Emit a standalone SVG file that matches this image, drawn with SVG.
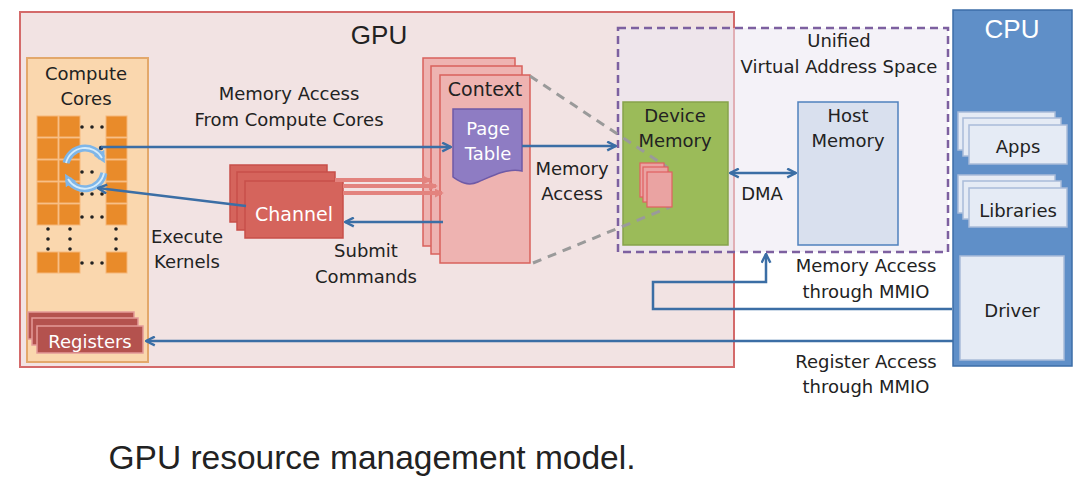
<svg xmlns="http://www.w3.org/2000/svg" width="1080" height="477" viewBox="0 0 1080 477">
<style>
text{font-family:"DejaVu Sans","Noto Sans",sans-serif;font-size:18px;fill:#222;text-anchor:middle}
.w{fill:#fff}
.cell{fill:#e98b2a;stroke:#f5b77a;stroke-width:1}
.dot{fill:#222}
.blue{fill:none;stroke:#3b6ea5;stroke-width:2.5}
.red{fill:none;stroke:#e3837e;stroke-width:4}
.ctx{fill:#eeb3b1;stroke:#d9625c;stroke-width:1.5}
.chn{fill:#d5645c;stroke:#c74f49;stroke-width:1.5}
.reg{fill:#b4524e;stroke:#e39a98;stroke-width:1.5}
.cpub{fill:#e5ebf5;stroke:#a9bcd9;stroke-width:1.5}
.gdash{fill:none;stroke:#9a9a9a;stroke-width:3;stroke-dasharray:9 7}
</style>
<defs>
<marker id="ab" viewBox="0 0 10 10" refX="9" refY="5" markerWidth="11" markerHeight="11" markerUnits="userSpaceOnUse" orient="auto-start-reverse">
<path d="M1,1 L9,5 L1,9" fill="none" stroke="#3b6ea5" stroke-width="2.2"/>
</marker>
<marker id="ar" viewBox="0 0 10 10" refX="8" refY="5" markerWidth="9" markerHeight="9" markerUnits="userSpaceOnUse" orient="auto">
<path d="M0,0 L10,5 L0,10 Z" fill="#e3837e"/>
</marker>
<marker id="ac" viewBox="0 0 10 10" refX="5" refY="5" markerWidth="12" markerHeight="12" markerUnits="userSpaceOnUse" orient="auto">
<path d="M0,0 L10,5 L0,10 Z" fill="#7fb6e8"/>
</marker>
</defs>
<rect width="1080" height="477" fill="#fff"/>

<g id="gpu">
<rect x="20" y="12" width="714" height="355" fill="#f2e3e3" stroke="#d46a6a" stroke-width="2"/>
<text x="379" y="44" style="font-family:'Liberation Sans',Arial,sans-serif;font-size:26px">GPU</text>
</g>

<g id="uvas">
<rect x="618" y="28" width="330" height="224" fill="#ebe7f3" fill-opacity="0.55" stroke="#7d60a0" stroke-width="2.5" stroke-dasharray="8 5"/>
<text x="839" y="47">Unified</text>
<text x="839" y="73">Virtual Address Space</text>
</g>

<g id="compute-cores">
<rect x="27" y="58" width="121" height="304" fill="#fad7ae" stroke="#e3a86b" stroke-width="2"/>
<text x="86" y="80">Compute</text>
<text x="86" y="105">Cores</text>
<g>
<rect class="cell" x="37" y="116" width="21" height="21"/><rect class="cell" x="59" y="116" width="21" height="21"/><rect class="cell" x="106" y="116" width="21" height="21"/>
<rect class="cell" x="37" y="138" width="21" height="21"/><rect class="cell" x="59" y="138" width="21" height="21"/><rect class="cell" x="106" y="138" width="21" height="21"/>
<rect class="cell" x="37" y="160" width="21" height="21"/><rect class="cell" x="59" y="160" width="21" height="21"/><rect class="cell" x="106" y="160" width="21" height="21"/>
<rect class="cell" x="37" y="182" width="21" height="21"/><rect class="cell" x="59" y="182" width="21" height="21"/><rect class="cell" x="106" y="182" width="21" height="21"/>
<rect class="cell" x="37" y="204" width="21" height="21"/><rect class="cell" x="59" y="204" width="21" height="21"/><rect class="cell" x="106" y="204" width="21" height="21"/>
<rect class="cell" x="37" y="252" width="21" height="21"/><rect class="cell" x="59" y="252" width="21" height="21"/><rect class="cell" x="106" y="252" width="21" height="21"/>
</g>
<g class="dot">
<circle cx="82" cy="127" r="1.8"/><circle cx="92" cy="127" r="1.8"/><circle cx="102" cy="127" r="1.8"/>
<circle cx="82" cy="172" r="1.8"/><circle cx="92" cy="172" r="1.8"/>
<circle cx="82" cy="194" r="1.8"/><circle cx="92" cy="194" r="1.8"/><circle cx="102" cy="194" r="1.8"/>
<circle cx="82" cy="217" r="1.8"/><circle cx="92" cy="217" r="1.8"/><circle cx="102" cy="217" r="1.8"/>
<circle cx="82" cy="263" r="1.8"/><circle cx="92" cy="263" r="1.8"/><circle cx="102" cy="263" r="1.8"/>
<circle cx="48" cy="229" r="1.8"/><circle cx="48" cy="239" r="1.8"/><circle cx="48" cy="249" r="1.8"/>
<circle cx="70" cy="229" r="1.8"/><circle cx="70" cy="239" r="1.8"/><circle cx="70" cy="249" r="1.8"/>
<circle cx="116" cy="229" r="1.8"/><circle cx="116" cy="239" r="1.8"/><circle cx="116" cy="249" r="1.8"/>
</g>
<g fill="none">
<path d="M66,163 A19.5,19.5 0 0 1 102,158" stroke="#7fb6e8" stroke-width="7" marker-end="url(#ac)"/>
<path d="M104,173 A19.5,19.5 0 0 1 68,179" stroke="#7fb6e8" stroke-width="7" marker-end="url(#ac)"/>
<path d="M66,163 A19.5,19.5 0 0 1 102,158" stroke="#d6ecfb" stroke-width="1.8"/>
<path d="M104,173 A19.5,19.5 0 0 1 68,179" stroke="#d6ecfb" stroke-width="1.8"/>
</g>
</g>

<g id="registers">
<rect class="reg" x="28" y="312" width="106" height="27"/>
<rect class="reg" x="32" y="318" width="106" height="27"/>
<rect class="reg" x="37" y="326" width="106" height="27"/>
<text class="w" x="90" y="348">Registers</text>
</g>

<g id="channel">
<rect class="chn" x="230" y="165" width="97" height="57"/>
<rect class="chn" x="237" y="172" width="98" height="58"/>
<rect class="chn" x="245" y="181" width="98" height="57"/>
<text class="w" x="294" y="221" style="font-size:19px">Channel</text>
</g>

<g id="context">
<rect class="ctx" x="423" y="58" width="92" height="188"/>
<rect class="ctx" x="431" y="66" width="91" height="188"/>
<rect class="ctx" x="440" y="75" width="90" height="188"/>
<text x="485" y="96" style="font-size:19px">Context</text>
</g>

<g id="page-table">
<path d="M453,109 H522 V171 C506,168 492,176 478,182 C467,187 459,181 453,177 Z" fill="#8e7cc3" stroke="#6f5aa6" stroke-width="1.5"/>
<text class="w" x="488" y="135">Page</text>
<text class="w" x="488" y="160">Table</text>
</g>

<g id="device-memory">
<rect x="623" y="102" width="105" height="143" fill="#9bbb59" stroke="#86a34b" stroke-width="1.5"/>
<text x="675" y="122">Device</text>
<text x="675" y="147">Memory</text>
</g>

<g id="host-memory">
<rect x="798" y="102" width="100" height="143" fill="#d9e0ee" stroke="#4f81bd" stroke-width="1.5"/>
<text x="848" y="122">Host</text>
<text x="848" y="147">Memory</text>
</g>

<g id="cpu">
<rect x="953" y="10" width="119" height="356" fill="#5f8fc8" stroke="#3d6ea8" stroke-width="1.5"/>
<text class="w" x="1012" y="38" style="font-family:'Liberation Sans',Arial,sans-serif;font-size:26px">CPU</text>
</g>

<g id="apps">
<rect class="cpub" x="958" y="112" width="97" height="38"/>
<rect class="cpub" x="963" y="118" width="98" height="38"/>
<rect class="cpub" x="969" y="125" width="98" height="39"/>
<text x="1018" y="153">Apps</text>
</g>

<g id="libraries">
<rect class="cpub" x="958" y="175" width="97" height="38"/>
<rect class="cpub" x="963" y="181" width="98" height="38"/>
<rect class="cpub" x="969" y="188" width="98" height="39"/>
<text x="1018" y="217">Libraries</text>
</g>

<g id="driver">
<rect class="cpub" x="960" y="256" width="104" height="104"/>
<text x="1012" y="317">Driver</text>
</g>

<g id="connectors">
<path class="gdash" d="M530,76 L667,167"/>
<path class="gdash" d="M533,263 L670,207"/>
<g id="dm-pages">
<rect x="640" y="163" width="24" height="34" fill="#eaa3a2" stroke="#e06060" stroke-width="1.2"/>
<rect x="643" y="167" width="25" height="35" fill="#eaa3a2" stroke="#e06060" stroke-width="1.2"/>
<rect x="647" y="172" width="25" height="35" fill="#eaa3a2" stroke="#e06060" stroke-width="1.2"/>
</g>
<circle cx="101" cy="148" r="2.2" fill="#1f3f66"/>
<path class="blue" d="M101,147 H451" marker-end="url(#ab)"/>
<path class="blue" d="M246,206 L98,188" marker-end="url(#ab)"/>
<path class="red" d="M335,180 H430" marker-end="url(#ar)"/>
<path class="red" d="M343,186 H436" marker-end="url(#ar)"/>
<path class="red" d="M343,193 H442" marker-end="url(#ar)"/>
<path class="blue" d="M443,222 H345" marker-end="url(#ab)"/>
<path class="blue" d="M522,146 H616" marker-end="url(#ab)"/>
<path class="blue" d="M730,173 H796" marker-start="url(#ab)" marker-end="url(#ab)"/>
<path class="blue" d="M952,309 H653 V282 H766 V254" marker-end="url(#ab)"/>
<path class="blue" d="M953,341 H146" marker-end="url(#ab)"/>
<text x="289" y="100">Memory Access</text>
<text x="289" y="126">From Compute Cores</text>
<text x="187" y="243">Execute</text>
<text x="187" y="268">Kernels</text>
<text x="366" y="257">Submit</text>
<text x="366" y="283">Commands</text>
<text x="572" y="175">Memory</text>
<text x="572" y="200">Access</text>
<text x="762" y="200">DMA</text>
<text x="866" y="272">Memory Access</text>
<text x="866" y="298">through MMIO</text>
<text x="866" y="368">Register Access</text>
<text x="866" y="393">through MMIO</text>
</g>

<text x="372" y="469" style="font-family:'Liberation Sans',Arial,sans-serif;font-size:33.5px;fill:#222">GPU resource management model.</text>
</svg>
